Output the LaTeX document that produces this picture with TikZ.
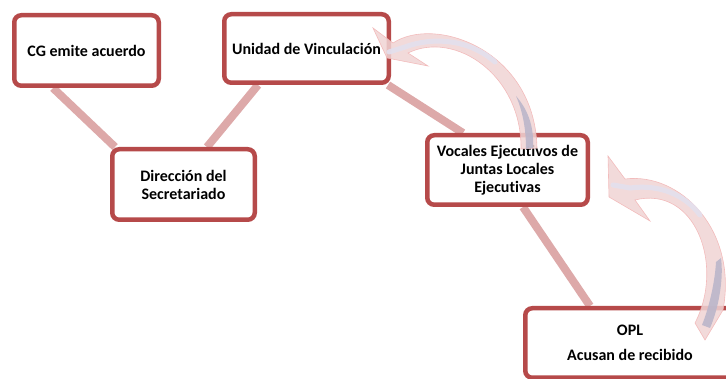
\documentclass[tikz,border=0pt]{standalone}
\usepackage{fontspec}
\setmainfont{Carlito}[Ligatures={NoCommon}]
\usetikzlibrary{positioning,backgrounds}

\definecolor{boxred}{HTML}{B64A4A}
\definecolor{linkpink}{HTML}{DDA9A9}
\definecolor{arrowpink}{HTML}{F0D4D4}
\definecolor{arrowlav}{HTML}{E3E0EE}
\definecolor{arrowgray}{HTML}{BBB6CA}

\tikzset{
  paso/.style={draw=boxred, line width=4.5pt, rounded corners=7pt, fill=white,
    align=center, inner sep=0pt, font=\fontsize{16}{18}\selectfont\bfseries},
  enlace/.style={linkpink, line width=8pt},
  flecha/.style={fill=arrowpink, draw=arrowpink!85!red, line width=0.6pt, opacity=0.85},
  franja/.style={arrowlav, line width=5pt, line cap=round, opacity=0.9},
  sombra/.style={fill=arrowgray, opacity=0.9}
}

\begin{document}
\begin{tikzpicture}[x=1pt,y=-1pt]
\useasboundingbox (0,0) rectangle (726,379);

% pasos
\node[paso, minimum width=144.5pt, minimum height=70.5pt] (cg) at (86.5,50.5) {CG emite acuerdo};
\node[paso, minimum width=164.5pt, minimum height=68.5pt] (uv) at (306.5,48.5) {Unidad de Vinculación};
\node[paso, minimum width=142.5pt, minimum height=70.5pt] (dir) at (183.5,184.5) {Dirección del\\Secretariado};
\node[paso, minimum width=160.5pt, minimum height=69.5pt] (voc) at (507.5,170) {Vocales Ejecutivos de\\Juntas Locales\\Ejecutivas};
\node[paso, minimum width=209.5pt, minimum height=69.5pt] (opl) at (630,343) {OPL\\[7pt]Acusan de recibido};

% enlaces
\begin{scope}[on background layer]
\draw[enlace] ([xshift=41pt]cg.south west) -- ([xshift=5pt]dir.north west);
\draw[enlace] ([xshift=36pt]uv.south west) -- ([xshift=97pt]dir.north west);
\draw[enlace] ([xshift=-3pt]uv.south east) -- ([xshift=38pt]voc.north west);
\draw[enlace] ([xshift=98pt]voc.south west) -- ([xshift=67pt]opl.north west);
\end{scope}

% flecha curva de voc a uv
\draw[flecha] (373,28) -- (393,43) .. controls (435,15) and (535,50) .. (537,148)
  -- (521,149) .. controls (522,75) and (455,30) .. (408,53)
  -- (428,66) -- (387,58) -- cycle;
\draw[franja] (389,52) -- (405,47) .. controls (435,36) and (470,40) .. (495,62);
\fill[sombra] (516,96) .. controls (530,112) and (534,130) .. (533,148)
  -- (526,149) .. controls (526,130) and (523,112) .. (516,96);

% flecha curva de opl a voc
\draw[flecha] (608,156) -- (625,179) .. controls (680,172) and (738,230) .. (723,310)
  -- (705,340) -- (695,323) .. controls (725,265) and (695,185) .. (635,200)
  -- (650,221) -- (609,197) -- cycle;
\draw[franja] (613,185) -- (630,188) .. controls (660,184) and (685,195) .. (700,215);
\fill[sombra] (721,258) .. controls (724,280) and (718,310) .. (710,328)
  -- (702,325) .. controls (710,305) and (715,280) .. (716,262) -- cycle;

\end{tikzpicture}
\end{document}
